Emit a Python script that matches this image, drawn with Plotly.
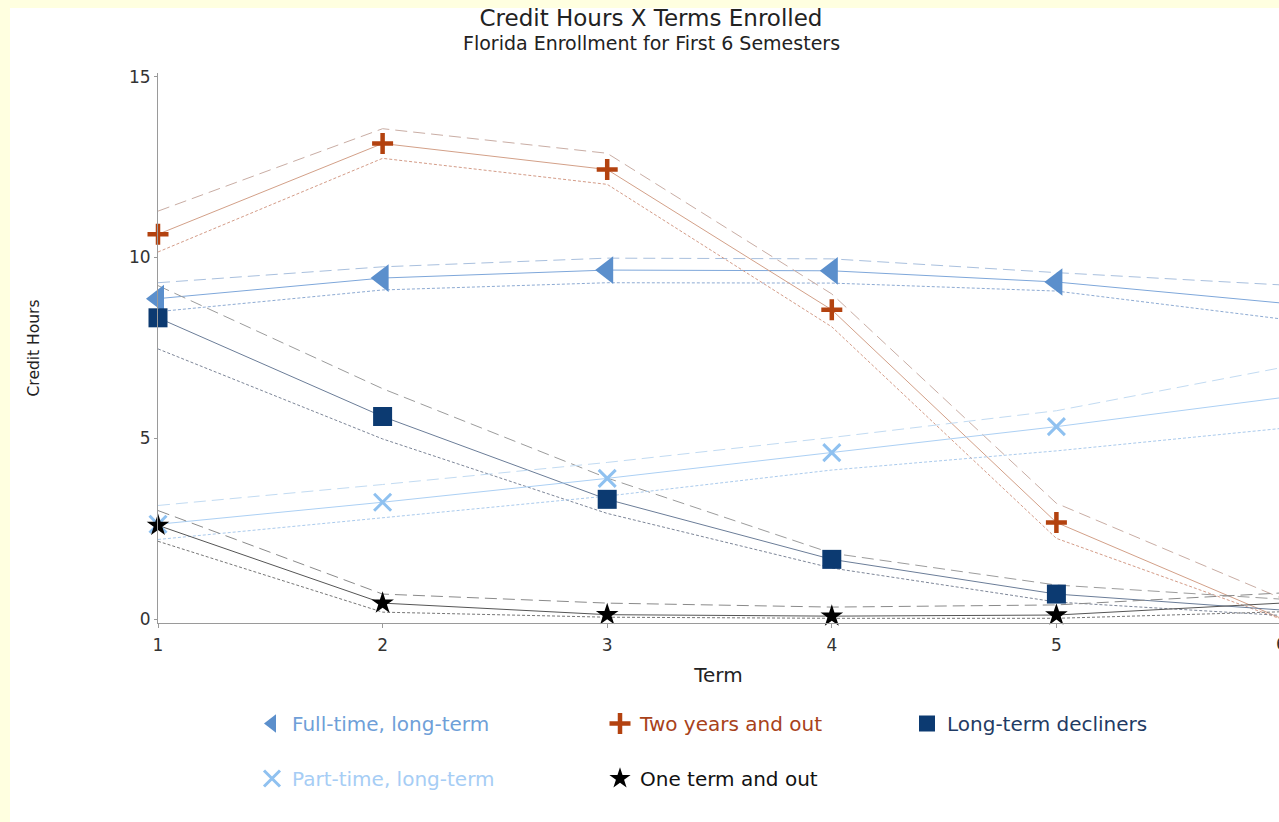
import plotly.graph_objects as go

# ---------------- data ----------------
terms = [1, 2, 3, 4, 5, 6]

fulltime = [8.86, 9.43, 9.65, 9.63, 9.32, 8.74]
fulltime_hi = [9.30, 9.74, 9.98, 9.96, 9.58, 9.24]
fulltime_lo = [8.50, 9.10, 9.30, 9.29, 9.07, 8.30]

twoyears = [10.64, 13.15, 12.43, 8.55, 2.67, 0.02]
twoyears_hi = [11.28, 13.56, 12.88, 8.99, 3.20, 0.58]
twoyears_lo = [10.15, 12.74, 12.02, 8.08, 2.23, 0.00]

decliners = [8.33, 5.60, 3.31, 1.65, 0.69, 0.25]
decliners_hi = [9.22, 6.37, 3.90, 1.82, 0.94, 0.55]
decliners_lo = [7.47, 4.98, 2.92, 1.41, 0.47, 0.10]

parttime = [2.62, 3.23, 3.89, 4.60, 5.32, 6.12]
parttime_hi = [3.14, 3.72, 4.33, 5.02, 5.76, 6.95]
parttime_lo = [2.20, 2.80, 3.40, 4.12, 4.65, 5.27]

oneterm = [2.59, 0.44, 0.12, 0.08, 0.11, 0.44]
oneterm_hi = [3.00, 0.69, 0.44, 0.33, 0.39, 0.72]
oneterm_lo = [2.15, 0.19, 0.05, 0.02, 0.02, 0.20]

y_ticks = [0, 5, 10, 15]
x_ticks = [1, 2, 3, 4, 5]

series = [
    dict(name="Full-time, long-term", y=fulltime, hi=fulltime_hi, lo=fulltime_lo,
         symbol="triangle-left", mcolor="#5b8fcc", lcolor="#7ea7da", hcolor="#a9c0de",
         locolor="#8eabd3", tcolor="#6f9fd8", size=24, legend="legend", open=False),
    dict(name="Two years and out", y=twoyears, hi=twoyears_hi, lo=twoyears_lo,
         symbol="cross-thin-open", mcolor="#b3420f", lcolor="#d3a088", hcolor="#c9ada4",
         locolor="#d49c88", tcolor="#a8421a", size=15, legend="legend2", open=True, lw=4.5),
    dict(name="Long-term decliners", y=decliners, hi=decliners_hi, lo=decliners_lo,
         symbol="square", mcolor="#0c3a71", lcolor="#6b7d98", hcolor="#9c9c9c",
         locolor="#7d8698", tcolor="#1f3b64", size=19, legend="legend3", open=False),
    dict(name="Part-time, long-term", y=parttime, hi=parttime_hi, lo=parttime_lo,
         symbol="x-thin-open", mcolor="#8fc1f0", lcolor="#acd0f4", hcolor="#c2dbf2",
         locolor="#abcbed", tcolor="#a6cdf5", size=17, legend="legend", open=True, lw=3),
    dict(name="One term and out", y=oneterm, hi=oneterm_hi, lo=oneterm_lo,
         symbol="star", mcolor="#000000", lcolor="#555555", hcolor="#8a8a8a",
         locolor="#777777", tcolor="#111111", size=17, legend="legend2", open=False),
]

fig = go.Figure()

# lines (bounds + mean)
for s in series:
    fig.add_trace(go.Scatter(x=terms, y=s["hi"], mode="lines", showlegend=False,
                             line=dict(color=s["hcolor"], width=1, dash="12px,6px"),
                             hoverinfo="skip"))
    fig.add_trace(go.Scatter(x=terms, y=s["lo"], mode="lines", showlegend=False,
                             line=dict(color=s["locolor"], width=1, dash="3px,2px"),
                             hoverinfo="skip"))
    fig.add_trace(go.Scatter(x=terms, y=s["y"], mode="lines", showlegend=False,
                             line=dict(color=s["lcolor"], width=1), hoverinfo="skip"))

# markers (legend entries)
order = [0, 3, 1, 4, 2]
for i in order:
    s = series[i]
    if s["open"]:
        marker = dict(symbol=s["symbol"], size=s["size"], color=s["mcolor"],
                      line=dict(color=s["mcolor"], width=s["lw"]))
    else:
        marker = dict(symbol=s["symbol"], size=s["size"], color=s["mcolor"],
                      line=dict(width=0))
    fig.add_trace(go.Scatter(
        x=terms, y=s["y"], mode="markers", cliponaxis=False,
        name='<span style="color:%s">%s</span>' % (s["tcolor"], s["name"]),
        legend=s["legend"], legendgroup=s["name"], marker=marker))

W, H = 1279, 822
ML, MT, MB = 158, 73, 199
PW = W - ML
PH = H - MT - MB
x_px_per_unit = 224.6
x_max = 1 + PW / x_px_per_unit


def px_to_paper_x(px):
    return (px - ML) / PW


def px_to_paper_y(py):
    return (H - MB - py) / PH


legend_common = dict(orientation="v", xanchor="left", yanchor="top",
                     bgcolor="rgba(0,0,0,0)", borderwidth=0,
                     font=dict(family="DejaVu Sans", size=20),
                     tracegroupgap=26, itemclick=False, itemdoubleclick=False)

fig.update_layout(
    width=W, height=H, autosize=False,
    margin=dict(l=ML, r=0, t=MT, b=MB, pad=0),
    paper_bgcolor="#ffffe0",
    plot_bgcolor="white",
    font=dict(family="DejaVu Sans", color="#333333"),
    title=dict(text="Credit Hours X Terms Enrolled", xref="container", x=651 / W,
               xanchor="center", yref="container", y=1 - 18 / H, yanchor="middle",
               font=dict(family="DejaVu Sans", size=23, color="#222222")),
    xaxis=dict(range=[1, x_max], tickmode="array", tickvals=x_ticks,
               showgrid=False, zeroline=False, showline=True, linecolor="#9a9a9a",
               linewidth=1, ticks="outside", ticklen=4, tickcolor="#9a9a9a",
               ticklabelstandoff=3,
               tickfont=dict(size=17, color="#333333"),
               title=dict(text="Term", font=dict(size=20, color="#222222"), standoff=13)),
    yaxis=dict(range=[-0.11, 15.1], tickmode="array", tickvals=y_ticks,
               showgrid=False, zeroline=False, showline=True, linecolor="#9a9a9a",
               linewidth=1, ticks="outside", ticklen=3, tickcolor="#9a9a9a",
               tickfont=dict(size=17, color="#333333"),
               title=dict(text="Credit Hours", font=dict(size=15.5, color="#222222"),
                          standoff=85)),
    legend=dict(x=px_to_paper_x(252), y=px_to_paper_y(704), **legend_common),
    legend2=dict(x=px_to_paper_x(600), y=px_to_paper_y(704), **legend_common),
    legend3=dict(x=px_to_paper_x(907), y=px_to_paper_y(704), **legend_common),
    shapes=[dict(type="rect", xref="paper", yref="paper", layer="below",
                 x0=px_to_paper_x(10), x1=px_to_paper_x(1290),
                 y0=px_to_paper_y(830), y1=px_to_paper_y(8),
                 fillcolor="white", line=dict(width=0))],
    annotations=[
        dict(text="Florida Enrollment for First 6 Semesters", xref="paper", yref="paper",
             x=px_to_paper_x(651), y=px_to_paper_y(43), xanchor="center", yanchor="middle",
             showarrow=False, font=dict(family="DejaVu Sans", size=19, color="#222222")),
        dict(text="6", xref="paper", yref="paper", x=px_to_paper_x(1281),
             y=px_to_paper_y(644), xanchor="center", yanchor="middle", showarrow=False,
             font=dict(family="DejaVu Sans", size=17, color="#333333")),
    ],
)

fig.write_html("out.html")
